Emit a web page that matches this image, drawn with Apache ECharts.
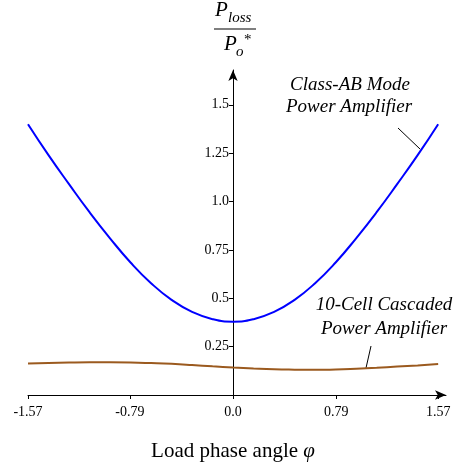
<!DOCTYPE html>
<html>
<head>
<meta charset="utf-8">
<script src="https://cdn.jsdelivr.net/npm/echarts@6/dist/echarts.min.js"></script>
<style>
  html, body { margin: 0; padding: 0; background: #fff; }
  #main { width: 454px; height: 466px; }
</style>
</head>
<body>
<div id="main"></div>
<script>
// load phase angle (rad)
var phiValues = [-1.57, -1.413, -1.256, -1.099, -0.942, -0.785, -0.628, -0.471, -0.314, -0.157, 0,
  0.157, 0.314, 0.471, 0.628, 0.785, 0.942, 1.099, 1.256, 1.413, 1.57];
// Class-AB mode power amplifier
var classAbLoss = [1.40, 1.24, 1.09, 0.945, 0.81, 0.685, 0.578, 0.492, 0.430, 0.392, 0.379,
  0.392, 0.430, 0.492, 0.578, 0.685, 0.81, 0.945, 1.09, 1.24, 1.40];
// 10-cell cascaded power amplifier
var cascadedLoss = [0.163, 0.166, 0.168, 0.169, 0.169, 0.168, 0.165, 0.161, 0.155, 0.148, 0.142,
  0.137, 0.133, 0.131, 0.130, 0.132, 0.136, 0.141, 0.147, 0.153, 0.160];

var xTicks = [-1.57, -0.79, 0, 0.79, 1.57];
var xTickLabels = ['-1.57', '-0.79', '0.0', '0.79', '1.57'];
var yTicks = [0.25, 0.5, 0.75, 1.0, 1.25, 1.5];
var yTickLabels = ['0.25', '0.5', '0.75', '1.0', '1.25', '1.5'];

var serif = 'Liberation Serif';

function pairs(xs, ys) {
  var out = [];
  xs.forEach(function(x, i) {
    out.push([x, ys[i]]);
  });
  return out;
}

function labelOf(ticks, labels) {
  return function(v) {
    for (var i = 0; i < ticks.length; i++) {
      if (Math.abs(ticks[i] - v) < 1e-6) return labels[i];
    }
    return '';
  };
}

var chart = echarts.init(document.getElementById('main'));

// the y axis sits on phi = 0: grid left is 28px, phi = 0 is 205px further right
var yAxisShift = -205;

var option = {
  animation: false,
  backgroundColor: '#fff',
  grid: {
    left: 28,
    right: 8,
    top: 70,
    bottom: 71
  },
  xAxis: {
    type: 'value',
    min: -1.57,
    max: 1.63,
    axisLine: {
      onZero: true,
      symbol: ['none', 'arrow'],
      symbolSize: [7, 11],
      lineStyle: { color: '#000', width: 1 }
    },
    axisTick: {
      customValues: xTicks,
      length: 4,
      lineStyle: { color: '#000' }
    },
    axisLabel: {
      customValues: xTicks,
      formatter: labelOf(xTicks, xTickLabels),
      color: '#000',
      fontFamily: serif,
      fontSize: 14,
      margin: 10
    },
    splitLine: { show: false }
  },
  yAxis: {
    type: 'value',
    min: 0,
    max: 1.68,
    offset: yAxisShift,
    axisLine: {
      show: true,
      onZero: false,
      symbol: ['none', 'arrow'],
      symbolSize: [7, 11],
      lineStyle: { color: '#000', width: 1 }
    },
    axisTick: {
      show: true,
      customValues: yTicks,
      length: 4,
      lineStyle: { color: '#000' }
    },
    axisLabel: {
      customValues: yTicks,
      formatter: labelOf(yTicks, yTickLabels),
      color: '#000',
      fontFamily: serif,
      fontSize: 14,
      margin: 4
    },
    splitLine: { show: false }
  },
  series: [{
    name: 'Class-AB Mode Power Amplifier',
    type: 'line',
    smooth: true,
    showSymbol: false,
    data: pairs(phiValues, classAbLoss),
    lineStyle: { color: '#0000ff', width: 2 },
    z: 3
  }, {
    name: '10-Cell Cascaded Power Amplifier',
    type: 'line',
    smooth: true,
    showSymbol: false,
    data: pairs(phiValues, cascadedLoss),
    lineStyle: { color: '#9b5a1f', width: 2 },
    z: 3
  }],
  graphic: [
    // y axis title: P_loss / P_o*
    { type: 'text', x: 215, y: 10, style: { text: 'P', font: 'italic 21px ' + serif, fill: '#000', textVerticalAlign: 'middle' } },
    { type: 'text', x: 228, y: 18, style: { text: 'loss', font: 'italic 15px ' + serif, fill: '#000', textVerticalAlign: 'middle' } },
    { type: 'line', shape: { x1: 214, y1: 29, x2: 256, y2: 29 }, style: { stroke: '#555', lineWidth: 1.5 } },
    { type: 'text', x: 224, y: 44, style: { text: 'P', font: 'italic 21px ' + serif, fill: '#000', textVerticalAlign: 'middle' } },
    { type: 'text', x: 236, y: 52, style: { text: 'o', font: 'italic 15px ' + serif, fill: '#000', textVerticalAlign: 'middle' } },
    { type: 'text', x: 244, y: 40, style: { text: '*', font: '15px ' + serif, fill: '#000', textVerticalAlign: 'middle' } },

    // x axis title
    {
      type: 'text', x: 233, y: 451,
      style: {
        text: 'Load phase angle {i|φ}',
        font: '21px ' + serif,
        fill: '#000',
        textAlign: 'center',
        textVerticalAlign: 'middle',
        rich: { i: { fontStyle: 'italic', fontFamily: serif, fontSize: 21 } }
      }
    },

    // annotations
    { type: 'text', x: 350, y: 85, style: { text: 'Class-AB Mode', font: 'italic 19px ' + serif, fill: '#000', textAlign: 'center', textVerticalAlign: 'middle' } },
    { type: 'text', x: 349, y: 107, style: { text: 'Power Amplifier', font: 'italic 19px ' + serif, fill: '#000', textAlign: 'center', textVerticalAlign: 'middle' } },
    { type: 'line', shape: { x1: 398, y1: 128, x2: 420, y2: 149 }, style: { stroke: '#000', lineWidth: 1 } },

    { type: 'text', x: 384, y: 305, style: { text: '10-Cell Cascaded', font: 'italic 19px ' + serif, fill: '#000', textAlign: 'center', textVerticalAlign: 'middle' } },
    { type: 'text', x: 384, y: 329, style: { text: 'Power Amplifier', font: 'italic 19px ' + serif, fill: '#000', textAlign: 'center', textVerticalAlign: 'middle' } },
    { type: 'line', shape: { x1: 371, y1: 346, x2: 366, y2: 368 }, style: { stroke: '#000', lineWidth: 1 } }
  ]
};

chart.setOption(option);
</script>
</body>
</html>
